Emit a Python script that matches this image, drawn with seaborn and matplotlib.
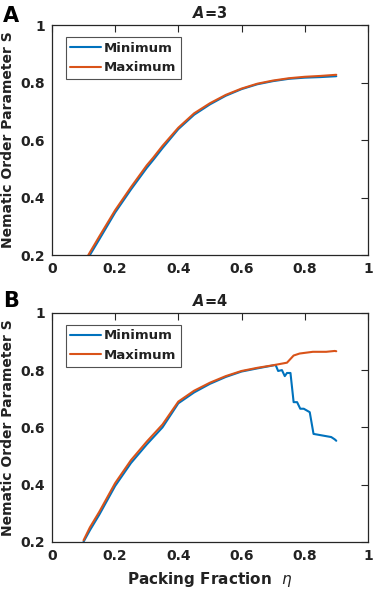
import pandas as pd
import matplotlib
matplotlib.use("Agg")
import matplotlib.pyplot as plt
import seaborn as sns

# --------------------------
# Data
# --------------------------
eta_a3_min = [0.12, 0.15, 0.2, 0.25, 0.3, 0.32, 0.35, 0.4, 0.45, 0.5, 0.55, 0.6, 0.65, 0.7, 0.75, 0.8, 0.85, 0.9]
s_a3_min = [0.200, 0.255, 0.348, 0.428, 0.503, 0.530, 0.572, 0.638, 0.688, 0.724, 0.754, 0.777, 0.794, 0.805, 0.813, 0.817, 0.819, 0.822]
eta_a3_max = [0.115, 0.15, 0.2, 0.25, 0.3, 0.32, 0.35, 0.4, 0.45, 0.5, 0.55, 0.6, 0.65, 0.7, 0.75, 0.8, 0.85, 0.9]
s_a3_max = [0.200, 0.265, 0.356, 0.436, 0.512, 0.538, 0.580, 0.643, 0.693, 0.728, 0.757, 0.779, 0.796, 0.807, 0.815, 0.820, 0.823, 0.827]

eta_a4_min = [0.1, 0.12, 0.15, 0.2, 0.25, 0.3, 0.35, 0.4, 0.45, 0.5, 0.55, 0.6, 0.65, 0.708, 0.716, 0.728, 0.737,
              0.744, 0.755, 0.765, 0.776, 0.786, 0.797, 0.816, 0.828, 0.884, 0.895, 0.9]
s_a4_min = [0.200, 0.240, 0.295, 0.395, 0.475, 0.540, 0.600, 0.684, 0.722, 0.752, 0.776, 0.795, 0.806, 0.818, 0.797,
            0.800, 0.779, 0.790, 0.790, 0.688, 0.688, 0.665, 0.665, 0.653, 0.577, 0.566, 0.558, 0.553]
eta_a4_max = [0.1, 0.12, 0.15, 0.2, 0.25, 0.3, 0.35, 0.4, 0.45, 0.5, 0.55, 0.6, 0.65, 0.7, 0.744, 0.765, 0.784,
              0.826, 0.868, 0.895, 0.9]
s_a4_max = [0.205, 0.250, 0.305, 0.405, 0.485, 0.550, 0.610, 0.690, 0.728, 0.756, 0.779, 0.797, 0.808, 0.817, 0.826,
            0.851, 0.858, 0.864, 0.864, 0.867, 0.866]

series_names = ["Minimum", "Maximum"]
panel_letters = ["A", "B"]
panel_titles = [r"$\mathbfit{A}$=3", r"$\mathbfit{A}$=4"]
ticks = [0, 0.2, 0.4, 0.6, 0.8, 1]
tick_labels = ["0", "0.2", "0.4", "0.6", "0.8", "1"]


def to_frame(eta_min, s_min, eta_max, s_max):
    d1 = pd.DataFrame({"eta": eta_min, "S": s_min, "series": series_names[0]})
    d2 = pd.DataFrame({"eta": eta_max, "S": s_max, "series": series_names[1]})
    return pd.concat([d1, d2], ignore_index=True)


frames = [to_frame(eta_a3_min, s_a3_min, eta_a3_max, s_a3_max),
          to_frame(eta_a4_min, s_a4_min, eta_a4_max, s_a4_max)]

# --------------------------
# Plot
# --------------------------
sns.set_style("white")
plt.rcParams["font.family"] = ["DejaVu Sans"]
plt.rcParams["mathtext.fontset"] = "dejavusans"

palette = {"Minimum": "#0072BD", "Maximum": "#D95319"}
edge = "#262626"
txt = "#222222"

fig = plt.figure(figsize=(3.82, 5.96), dpi=100)
boxes = [[0.136, 0.572, 0.827, 0.386], [0.136, 0.091, 0.827, 0.384]]
letter_y = [1 - 6 / 596, 1 - 291 / 596]

for i, df in enumerate(frames):
    ax = fig.add_axes(boxes[i])
    sns.lineplot(data=df, x="eta", y="S", hue="series", palette=palette,
                 sort=False, estimator=None, linewidth=1.5, ax=ax)
    ax.set_xlim(0, 1)
    ax.set_ylim(0.2, 1)
    ax.set_xticks(ticks)
    ax.set_xticklabels(tick_labels)
    ax.set_yticks(ticks[1:])
    ax.set_yticklabels(tick_labels[1:])
    ax.tick_params(direction="in", length=5, width=0.8, colors=edge, labelsize=10,
                   top=True, right=True, labelcolor=txt, pad=5)
    for lbl in ax.get_xticklabels() + ax.get_yticklabels():
        lbl.set_fontweight("bold")
    for sp in ax.spines.values():
        sp.set_color(edge)
        sp.set_linewidth(0.9)
    ax.set_ylabel("Nematic Order Parameter S", fontsize=10, fontweight="bold", color=txt, labelpad=4)
    if i == 1:
        ax.set_xlabel(r"Packing Fraction  $\eta$", fontsize=11, fontweight="bold", color=txt, labelpad=5)
    else:
        ax.set_xlabel("")
    ax.set_title(panel_titles[i], fontsize=10.5, fontweight="bold", pad=5, color=txt)
    fig.text(3 / 382, letter_y[i], panel_letters[i], fontsize=15, fontweight="bold",
             va="top", ha="left", color="black")
    leg = ax.legend(loc="upper left", bbox_to_anchor=(0.044, 0.948), fontsize=9.5, frameon=True,
                    fancybox=False, edgecolor=edge, handlelength=2.3, borderpad=0.35,
                    labelspacing=0.5, handletextpad=0.25, borderaxespad=0)
    leg.get_frame().set_linewidth(0.8)
    for t in leg.get_texts():
        t.set_fontweight("bold")
        t.set_color(txt)

fig.savefig("out.png", dpi=100)
